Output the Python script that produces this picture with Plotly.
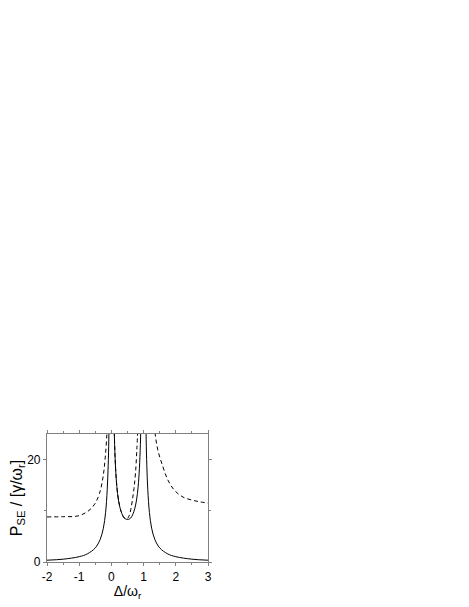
import plotly.graph_objects as go

# Solid curve: three branches separated by divergences near 0 and 1
solid_left_x = [-2, -1.5, -1, -0.75, -0.5, -0.35, -0.25, -0.18, -0.13, -0.1, -0.08, -0.06]
solid_left_y = [0.35, 0.55, 1.04, 1.58, 2.76, 4.38, 6.6, 9.7, 14.1, 18.8, 24.0, 32.6]
solid_mid_x = [0.06, 0.08, 0.1, 0.13, 0.17, 0.22, 0.3, 0.4, 0.5, 0.6, 0.7, 0.78, 0.83, 0.87, 0.9, 0.92, 0.94]
solid_mid_y = [36.7, 28.1, 23.0, 18.3, 14.7, 12.1, 9.9, 8.6, 8.3, 8.6, 9.9, 12.1, 14.7, 18.3, 23.0, 28.1, 36.7]
solid_right_x = [1.06, 1.08, 1.1, 1.13, 1.18, 1.25, 1.35, 1.5, 1.75, 2, 2.5, 3]
solid_right_y = [32.6, 24.0, 18.8, 14.1, 9.7, 6.6, 4.38, 2.76, 1.58, 1.04, 0.55, 0.35]

# Dashed curve: three branches
dash_left_x = [-2, -1.5, -1.04, -0.73, -0.52, -0.37, -0.26, -0.19, -0.14, -0.12]
dash_left_y = [8.8, 8.85, 9.0, 9.9, 11.3, 13.4, 16.6, 20.5, 25.0, 28.0]
dash_mid_x = [0.08, 0.1, 0.13, 0.17, 0.22, 0.3, 0.4, 0.48, 0.55, 0.6, 0.65, 0.7, 0.75, 0.79, 0.82]
dash_mid_y = [28.1, 23.0, 18.3, 14.7, 12.1, 9.9, 8.6, 8.4, 9.0, 10.2, 12.0, 14.3, 17.5, 22.0, 26.0]
dash_right_x = [1.33, 1.36, 1.445, 1.6, 1.755, 1.96, 2.22, 2.53, 2.75, 3.0]
dash_right_y = [28.0, 25.0, 21.8, 18.6, 16.0, 14.0, 12.7, 12.05, 11.75, 11.5]

x_ticks = [-2, -1, 0, 1, 2, 3]
y_ticks = [0, 20]

fig = go.Figure()
for xs, ys in [(solid_left_x, solid_left_y), (solid_mid_x, solid_mid_y), (solid_right_x, solid_right_y)]:
    fig.add_trace(go.Scatter(x=xs, y=ys, mode="lines", line=dict(color="black", width=1, shape="spline"),
                             showlegend=False, hoverinfo="skip"))
for xs, ys in [(dash_left_x, dash_left_y), (dash_mid_x, dash_mid_y), (dash_right_x, dash_right_y)]:
    fig.add_trace(go.Scatter(x=xs, y=ys, mode="lines", line=dict(color="black", width=1, dash="4px,3px", shape="spline"),
                             showlegend=False, hoverinfo="skip"))

FONT = "Liberation Sans, Arial, sans-serif"
axis_font = dict(family=FONT, size=12, color="black")
fig.update_layout(
    width=461, height=599,
    margin=dict(l=39, r=261, t=426, b=45, autoexpand=False),
    paper_bgcolor="white", plot_bgcolor="white",
    font=axis_font,
    xaxis=dict(range=[-2, 3], tickvals=x_ticks, ticktext=[str(v) for v in x_ticks],
               showgrid=False, zeroline=False, showline=True, linecolor="#808080", linewidth=1.2,
               mirror="ticks", ticks="outside", ticklen=3, tickcolor="#808080", tickwidth=1,
               minor=dict(dtick=0.5, ticks="outside", ticklen=2, tickcolor="#808080", showgrid=False),
               tickfont=axis_font,
               title=dict(text="Δ/ω<sub>r</sub>", font=dict(family=FONT, size=14, color="black"), standoff=1)),
    yaxis=dict(range=[0, 25], tickvals=y_ticks, ticktext=[str(v) for v in y_ticks],
               showgrid=False, zeroline=False, showline=True, linecolor="#808080", linewidth=1.2,
               mirror="ticks", ticks="outside", ticklen=3, tickcolor="#808080", tickwidth=1,
               minor=dict(dtick=10, ticks="outside", ticklen=2, tickcolor="#808080", showgrid=False),
               tickfont=axis_font,
               title=dict(text="P<sub>SE</sub> / [γ/ω<sub>r</sub>]", font=dict(family=FONT, size=16, color="black"), standoff=0)),
)

fig.write_html("out.html")
